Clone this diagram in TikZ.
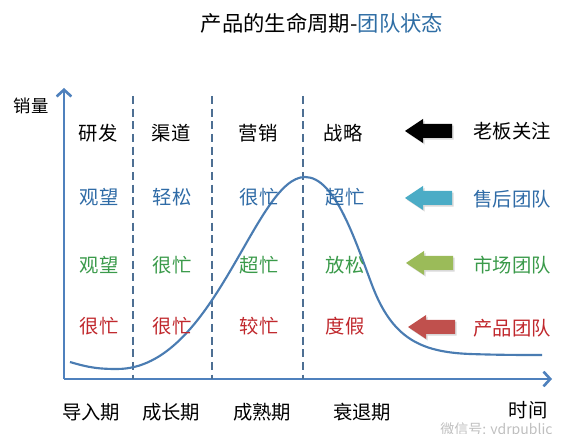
\documentclass[tikz,border=0pt]{standalone}
\usepackage{fontspec}
\setmainfont{Noto Sans CJK SC}
\usetikzlibrary{arrows.meta,shadows}

\definecolor{axisblue}{HTML}{4F81BD}
\definecolor{curveblue}{HTML}{4A7CB2}
\definecolor{dashblue}{HTML}{4D6F93}
\definecolor{titleblue}{HTML}{2E6DA4}
\definecolor{rowblue}{HTML}{2F6BA6}
\definecolor{rowgreen}{HTML}{3A9A4A}
\definecolor{rowred}{HTML}{C0282D}
\definecolor{arrowcyan}{HTML}{4BACC6}
\definecolor{arrowgreen}{HTML}{9BBB59}
\definecolor{arrowred}{HTML}{C0504D}

\tikzset{
  lbl/.style={font=\fontsize{14.5}{16}\selectfont, inner sep=1pt},
  axis/.style={axisblue, line width=2.2pt, -{Straight Barb[length=5pt,width=11pt,line width=2pt]}},
  divider/.style={dashblue, line width=1.1pt, dash pattern=on 6pt off 3.5pt},
  blockarrow/.style={drop shadow={shadow xshift=1.3pt, shadow yshift=-1.3pt, opacity=0.3}},
}

\begin{document}
\begin{tikzpicture}[x=0.75pt, y=-0.75pt]
    \useasboundingbox (0,0) rectangle (568,434);

    % 标题
    \node[font=\fontsize{16}{18}\selectfont, inner sep=0pt] (title) at (322,23)
        {产品的生命周期-\textcolor{titleblue}{团队状态}};

    % 坐标轴
    \coordinate (o) at (64,379);
    \coordinate (ytop) at (64,88);
    \coordinate (xend) at (552,379);
    \draw[axis] (o) -- (ytop);
    \draw[axis] (o) -- (xend);
    \node[lbl, font=\fontsize{13}{15}\selectfont] (ylabel) at (31,106) {销量};

    % 分隔虚线
    \coordinate (d1top) at (133,96);  \coordinate (d1bot) at (133,379);
    \coordinate (d2top) at (212,96);  \coordinate (d2bot) at (212,379);
    \coordinate (d3top) at (303,96);  \coordinate (d3bot) at (303,379);
    \draw[divider] (d1top) -- (d1bot);
    \draw[divider] (d2top) -- (d2bot);
    \draw[divider] (d3top) -- (d3bot);

    % 生命周期曲线
    \coordinate (cstart) at (70,362);
    \coordinate (cmin) at (117,369);
    \coordinate (cpeak) at (305,177);
    \coordinate (cdrop) at (372,285);
    \coordinate (ctail) at (470,354);
    \coordinate (cend) at (542,355);
    \draw[curveblue, line width=1.6pt]
        (cstart) .. controls (90,368) and (100,369) .. (cmin)
        .. controls (215,369) and (255,177) .. (cpeak)
        .. controls (335,177) and (355,240) .. (cdrop)
        .. controls (392,338) and (420,352) .. (ctail)
        .. controls (500,355) and (520,355) .. (cend);

    % 老板关注
    \node[lbl] (r1a) at (98,133) {研发};
    \node[lbl] (r1b) at (171,133) {渠道};
    \node[lbl] (r1c) at (258,133) {营销};
    \node[lbl] (r1d) at (343,133) {战略};
    \fill[black, blockarrow] (405,131) -- ++(18,-12) -- ++(0,5) -- ++(29,0)
        -- ++(0,14) -- ++(-29,0) -- ++(0,5) -- cycle;
    \node[lbl] (boss) at (512,131) {老板关注};

    % 售后团队
    \node[lbl, rowblue] (r2a) at (99,197) {观望};
    \node[lbl, rowblue] (r2b) at (172,197) {轻松};
    \node[lbl, rowblue] (r2c) at (259,197) {很忙};
    \node[lbl, rowblue] (r2d) at (345,197) {超忙};
    \fill[arrowcyan, blockarrow] (405,198) -- ++(18,-12) -- ++(0,5) -- ++(29,0)
        -- ++(0,14) -- ++(-29,0) -- ++(0,5) -- cycle;
    \node[lbl, rowblue] (service) at (512,199) {售后团队};

    % 市场团队
    \node[lbl, rowgreen] (r3a) at (99,265) {观望};
    \node[lbl, rowgreen] (r3b) at (172,265) {很忙};
    \node[lbl, rowgreen] (r3c) at (259,265) {超忙};
    \node[lbl, rowgreen] (r3d) at (345,265) {放松};
    \fill[arrowgreen, blockarrow] (406,263) -- ++(18,-12) -- ++(0,5) -- ++(29,0)
        -- ++(0,14) -- ++(-29,0) -- ++(0,5) -- cycle;
    \node[lbl, rowgreen] (market) at (512,265) {市场团队};

    % 产品团队
    \node[lbl, rowred] (r4a) at (99,326) {很忙};
    \node[lbl, rowred] (r4b) at (172,326) {很忙};
    \node[lbl, rowred] (r4c) at (259,326) {较忙};
    \node[lbl, rowred] (r4d) at (345,326) {度假};
    \fill[arrowred, blockarrow] (408,327) -- ++(18,-12) -- ++(0,5) -- ++(29,0)
        -- ++(0,14) -- ++(-29,0) -- ++(0,5) -- cycle;
    \node[lbl, rowred] (product) at (512,328) {产品团队};

    % 阶段
    \node[lbl] (p1) at (91,412) {导入期};
    \node[lbl] (p2) at (171,412) {成长期};
    \node[lbl] (p3) at (262,412) {成熟期};
    \node[lbl] (p4) at (362,412) {衰退期};
    \node[lbl] (xlabel) at (528,410) {时间};

    % 水印
    \node[black!25, font=\fontsize{10.5}{12}\selectfont, inner sep=0pt, anchor=west]
        (mark) at (440,430) {微信号: ydrpublic};
\end{tikzpicture}
\end{document}
